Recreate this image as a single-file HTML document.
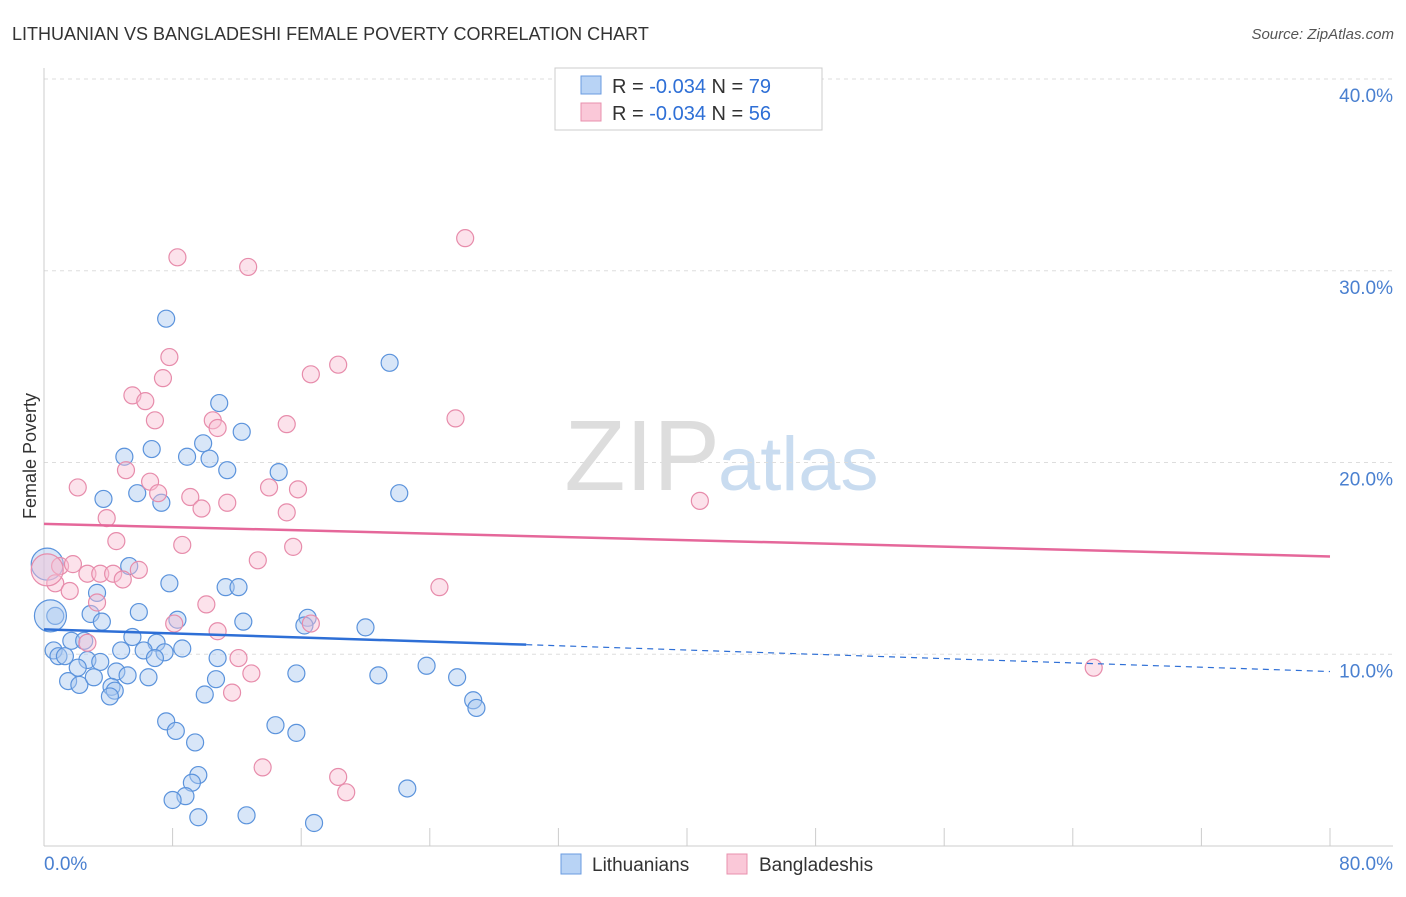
<!DOCTYPE html>
<html><head><meta charset="utf-8"><style>
body{margin:0;background:#fff;font-family:"Liberation Sans",sans-serif}
svg text{font-family:"Liberation Sans",sans-serif}
</style></head><body>
<svg id="c" width="1406" height="892" xmlns="http://www.w3.org/2000/svg">
<text x="12" y="40" font-size="18" fill="#333">LITHUANIAN VS BANGLADESHI FEMALE POVERTY CORRELATION CHART</text>
<text x="1394" y="39" font-size="15" fill="#555" text-anchor="end" font-style="italic">Source: ZipAtlas.com</text>
<text x="36" y="456" font-size="18" fill="#333" text-anchor="middle" transform="rotate(-90 36 456)">Female Poverty</text>
<text x="720" y="490" font-size="100" fill="#ddd" text-anchor="end" font-family="Liberation Serif">ZIP</text>
<text x="718" y="490" font-size="76" fill="#c9dcf0">atlas</text>
<g id="grid"></g><g id="pts"></g><g id="lines"></g>
<g>
<rect x="555" y="68" width="267" height="62" fill="#fff" stroke="#ccc"/>
<rect x="581" y="76" width="20" height="18" fill="#b8d3f5" stroke="#6a9be0"/>
<rect x="581" y="103" width="20" height="18" fill="#fac8d8" stroke="#e890ae"/>
<text x="612" y="93" font-size="20" fill="#333">R = <tspan fill="#2e6fd6">-0.034</tspan>   N = <tspan fill="#2e6fd6">79</tspan></text>
<text x="612" y="120" font-size="20" fill="#333">R = <tspan fill="#2e6fd6">-0.034</tspan>   N = <tspan fill="#2e6fd6">56</tspan></text>
</g>
<g>
<rect x="561" y="854" width="20" height="20" fill="#b8d3f5" stroke="#6a9be0"/>
<text x="592" y="871" font-size="19" fill="#333">Lithuanians</text>
<rect x="727" y="854" width="20" height="20" fill="#fac8d8" stroke="#e890ae"/>
<text x="759" y="871" font-size="19" fill="#333">Bangladeshis</text>
</g>
</svg>
<script>
const yTicks=[10,20,30,40];
const xTickLabels=["0.0%","80.0%"];
const blueX=[7.6,21.5,5,6.7,8.9,9.9,10.3,10.9,12.3,11.4,14.6,22.1,3.7,5.8,7.3,5.3,7.8,11.3,12.1,3.3,2.9,3.6,5.9,8.3,12.4,16.4,16.2,20,0.7,1.7,2.5,5.5,7,8.6,4.8,6.2,7.5,6.9,0.6,0.9,1.3,2.7,3.5,2.1,4.5,5.2,6.5,1.5,2.2,3.1,4.2,4.4,4.1,10.8,10.7,10,15.7,20.8,23.8,25.7,26.7,26.9,7.6,8.2,9.4,14.4,15.7,9.6,9.2,8.8,8,9.6,12.6,16.8,22.6,0.2,0.4];
const blueY=[27.5,25.2,20.3,20.7,20.3,21,20.2,23.1,21.6,19.6,19.5,18.4,18.1,18.4,17.9,14.6,13.7,13.5,13.5,13.2,12.1,11.7,12.2,11.8,11.7,11.9,11.5,11.4,12,10.7,10.7,10.9,10.6,10.3,10.2,10.2,10.1,9.8,10.2,9.9,9.9,9.7,9.6,9.3,9.1,8.9,8.8,8.6,8.4,8.8,8.3,8.1,7.8,9.8,8.7,7.9,9,8.9,9.4,8.8,7.6,7.2,6.5,6,5.4,6.3,5.9,3.7,3.3,2.6,2.4,1.5,1.6,1.2,3,14.7,12];
const pinkX=[26.2,8.3,12.7,7.8,18.3,16.6,7.4,5.5,6.3,25.6,6.9,10.5,15.1,10.8,5.1,6.6,2.1,7.1,9.1,14,15.8,11.4,9.8,15.1,40.8,3.9,4.5,8.6,15.5,13.3,1,1.8,0.7,1.6,2.7,3.5,4.3,4.9,5.9,3.3,10.1,24.6,8.1,10.8,16.6,2.7,12.1,12.9,11.7,65.3,13.6,18.3,18.8,0.2];
const pinkY=[31.7,30.7,30.2,25.5,25.1,24.6,24.4,23.5,23.2,22.3,22.2,22.2,22,21.8,19.6,19,18.7,18.4,18.2,18.7,18.6,17.9,17.6,17.4,18,17.1,15.9,15.7,15.6,14.9,14.6,14.7,13.7,13.3,14.2,14.2,14.2,13.9,14.4,12.7,12.6,13.5,11.6,11.2,11.6,10.6,9.8,9,8,9.3,4.1,3.6,2.8,14.4];
const blueTrend=[11.3,10.5,9.1], blueTrendX=[0,30,80];
const pinkTrend=[16.8,15.1], pinkTrendX=[0,80];
const NS="http://www.w3.org/2000/svg";
const X=v=>44+v/80*1286, Y=v=>846-v*19.175;
function mk(t,a,p){const e=document.createElementNS(NS,t);for(const k in a)e.setAttribute(k,a[k]);p.appendChild(e);return e;}
const g=document.getElementById('grid');
for(const t of yTicks){
 const l=mk('line',{x1:44,x2:1393,y1:Y(t),y2:Y(t),stroke:'#ddd','stroke-dasharray':'4 4'},g);
 
 
 const tx=mk('text',{x:1393,y:Y(t)+23,'font-size':19,fill:'#4a80d0','text-anchor':'end'},g);tx.textContent=t.toFixed(1)+'%';
 
 
}
mk('line',{x1:44,x2:44,y1:68,y2:846,stroke:'#ccc'},g);
mk('line',{x1:44,x2:1393,y1:846,y2:846,stroke:'#ccc'},g);
for(let i=0;i<=10;i++){const tk=mk('line',{x1:X(i*8),x2:X(i*8),y1:828,y2:846,stroke:'#ccc'},g);
 
 }
const x0=mk('text',{x:44,y:870,'font-size':19,fill:'#4a80d0'},g);x0.textContent=xTickLabels[0];


const x1=mk('text',{x:1393,y:870,'font-size':19,fill:'#4a80d0','text-anchor':'end'},g);x1.textContent=xTickLabels[1];


const p=document.getElementById('pts');
function pts(xs,ys,fill,stroke,name){xs.forEach((x,i)=>{const r=(x<0.5)?16:8.5;
 const c=mk('circle',{cx:X(x),cy:Y(ys[i]),r:r,fill:fill,'fill-opacity':0.45,stroke:stroke,'stroke-width':1.2},p);
 
 });}
pts(blueX,blueY,'#a9c8f0','#5b93dc','lithuanian-point');
pts(pinkX,pinkY,'#f8bfd2','#e78cab','bangladeshi-point');
const L=document.getElementById('lines');
const b1=mk('line',{x1:X(blueTrendX[0]),y1:Y(blueTrend[0]),x2:X(blueTrendX[1]),y2:Y(blueTrend[1]),stroke:'#2e6fd6','stroke-width':2.5},L);


const b2=mk('line',{x1:X(blueTrendX[1]),y1:Y(blueTrend[1]),x2:X(blueTrendX[2]),y2:Y(blueTrend[2]),stroke:'#2e6fd6','stroke-width':1.2,'stroke-dasharray':'6 5'},L);


const p1=mk('line',{x1:X(pinkTrendX[0]),y1:Y(pinkTrend[0]),x2:X(pinkTrendX[1]),y2:Y(pinkTrend[1]),stroke:'#e5679a','stroke-width':2.5},L);


</script>
</body></html>
